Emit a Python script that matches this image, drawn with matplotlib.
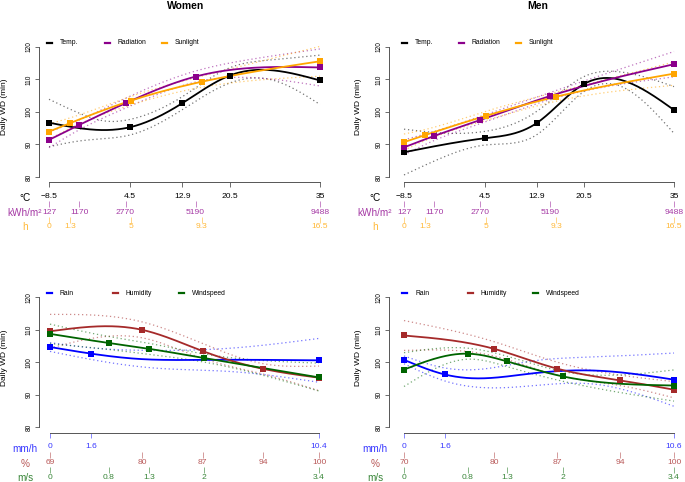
import numpy as np
import matplotlib
matplotlib.use('Agg')
import matplotlib.pyplot as plt
from matplotlib.lines import Line2D
from matplotlib.colors import to_rgba

plt.rcParams['font.family'] = ['Liberation Sans', 'DejaVu Sans']

# ---- x axes (tick values and their labels) ----
temp_ticks = [-8.5, 4.5, 12.9, 20.5, 35]
temp_labels = ['\u22128.5', '4.5', '12.9', '20.5', '35']
rad_ticks = [127, 1170, 2770, 5190, 9488]
sun_ticks = [0, 1.3, 5, 9.3, 16.5]
rain_w_ticks = [0, 1.6, 10.4]
hum_w_ticks = [69.4, 80, 87, 94, 100.4]
hum_w_labels = ['69', '80', '87', '94', '100']
wind_w_ticks = [0, 0.74, 1.25, 1.95, 3.4]
wind_w_labels = ['0', '0.8', '1.3', '2', '3.4']
rain_m_ticks = [0, 1.6, 10.6]
hum_m_ticks = [70, 80, 87, 94, 100]
wind_m_ticks = [0, 0.8, 1.3, 2, 3.4]

# ---- Women, weather (top left) ----
w_temp = [96.7, 95.3, 102.7, 111.2, 109.7]
w_rad = [91.4, 96.0, 102.7, 110.9, 113.7]
w_sun = [93.95, 96.6, 103.5, 109.3, 115.6]
w_temp_ci_x = [-8.5, -3.5, 0.5, 4.5, 12.9, 20.5, 27, 35]
w_temp_lo = [89.3, 91.1, 91.8, 92.9, 100.7, 108.9, 110.0, 102.3]
w_temp_hi = [103.9, 99.5, 97.2, 97.7, 104.7, 113.6, 116.0, 117.5]
w_rad_ci_x = [127, 1170, 2770, 5190, 7300, 9488]
w_rad_lo = [89.0, 94.5, 101.2, 109.2, 110.5, 108.0]
w_rad_hi = [93.8, 97.5, 104.2, 112.6, 116.5, 119.4]
w_sun_lo = [91.6, 95.0, 102.2, 107.6, 111.0]
w_sun_hi = [96.3, 98.2, 104.8, 111.0, 120.2]

# ---- Men, weather (top right) ----
m_temp = [87.6, 91.9, 96.6, 108.6, 100.6]
m_rad = [89.1, 92.6, 97.5, 104.9, 114.7]
m_sun = [90.7, 92.9, 98.8, 104.7, 111.8]
m_temp_ci_x = [-8.5, -3, 4.5, 12.9, 20.5, 26, 35]
m_temp_lo = [80.6, 85.4, 89.8, 93.0, 106.3, 108.2, 93.4]
m_temp_hi = [94.7, 93.6, 94.0, 100.2, 110.9, 112.4, 107.8]
m_rad_lo = [86.8, 91.2, 96.4, 103.8, 110.8]
m_rad_hi = [91.4, 94.0, 98.6, 106.0, 118.6]
m_sun_lo = [88.2, 91.2, 97.4, 103.3, 108.2]
m_sun_hi = [93.2, 94.6, 100.2, 106.1, 115.4]

# ---- Women, rain / humidity / wind (bottom left) ----
w_rain = [104.75, 102.7, 100.65]
w_rain_fit_x = [0, 1.6, 3.4, 6, 10.4]
w_rain_fit = [104.75, 102.7, 101.1, 100.8, 100.65]
w_rain_ci_x = [0, 1.6, 4, 7, 10.4]
w_rain_lo = [103.4, 100.9, 98.3, 97.2, 93.9]
w_rain_hi = [106.1, 104.5, 103.7, 104.4, 107.4]
w_hum = [109.6, 110.05, 103.5, 98.0, 95.3]
w_hum_lo = [104.4, 107.6, 101.2, 96.4, 91.3]
w_hum_hi = [114.8, 112.5, 105.8, 99.6, 98.9]
w_wind = [108.8, 106.0, 104.2, 101.35, 95.4]
w_wind_lo = [105.8, 104.0, 102.5, 100.1, 91.2]
w_wind_hi = [111.8, 108.0, 105.9, 102.6, 99.8]

# ---- Men, rain / humidity / wind (bottom right) ----
m_rain = [100.8, 96.3, 94.7]
m_rain_fit_x = [0, 1.6, 3.0, 5.0, 7.5, 10.6]
m_rain_fit = [100.8, 96.3, 95.1, 96.6, 97.5, 94.7]
m_rain_lo = [99.6, 94.3, 92.3, 92.8, 93.3, 86.5]
m_rain_hi = [102.0, 98.3, 97.9, 100.4, 101.7, 102.9]
m_hum = [108.3, 104.2, 98.1, 94.5, 91.6]
m_hum_lo = [103.7, 102.0, 96.1, 92.9, 89.1]
m_hum_hi = [112.9, 106.4, 100.1, 96.1, 94.1]
m_wind = [97.8, 102.7, 100.3, 95.7, 92.9]
m_wind_lo = [92.6, 101.0, 98.7, 94.2, 88.1]
m_wind_hi = [103.0, 104.4, 101.9, 97.2, 97.7]

W, H = 685, 482
fig = plt.figure(figsize=(W / 100, H / 100), dpi=100)


def fx(p):
    return p / W


def fy(p):
    return 1 - p / H


def norm(v, ref):
    v = np.asarray(v, float)
    return (v - ref[0]) / (ref[-1] - ref[0])


def nspline(x, y, xs):
    # natural cubic spline through (x, y), evaluated at xs
    x = np.asarray(x, float)
    y = np.asarray(y, float)
    n = len(x)
    h = np.diff(x)
    A = np.zeros((n, n))
    b = np.zeros(n)
    A[0, 0] = A[-1, -1] = 1
    for i in range(1, n - 1):
        A[i, i - 1] = h[i - 1]
        A[i, i] = 2 * (h[i - 1] + h[i])
        A[i, i + 1] = h[i]
        b[i] = 6 * ((y[i + 1] - y[i]) / h[i] - (y[i] - y[i - 1]) / h[i - 1])
    M = np.linalg.solve(A, b)
    k = np.clip(np.searchsorted(x, xs) - 1, 0, n - 2)
    hk = h[k]
    a = x[k + 1] - xs
    t = xs - x[k]
    return (M[k] * a ** 3 / (6 * hk) + M[k + 1] * t ** 3 / (6 * hk)
            + (y[k] / hk - M[k] * hk / 6) * a + (y[k + 1] / hk - M[k + 1] * hk / 6) * t)


def panel(left, right, top, u0, u1, rows, series, title=None, leg_step=57, ylab_off=34):
    bottom = top + 140.3
    ax = fig.add_axes([fx(left), fy(bottom), (right - left) / W, (bottom - top) / H])
    ax.set_xlim((left - u0) / (u1 - u0), (right - u0) / (u1 - u0))
    ax.set_ylim(78.4, 121.6)
    ax.patch.set_visible(False)
    for s in ['top', 'right']:
        ax.spines[s].set_visible(False)
    ax.spines['left'].set_bounds(80, 120)
    ax.spines['bottom'].set_bounds(0, 1)
    for s in ['left', 'bottom']:
        ax.spines[s].set_color('#555555')
        ax.spines[s].set_linewidth(0.7)
    ax.set_yticks([80, 90, 100, 110, 120])
    ax.tick_params(axis='y', length=3, width=0.6, color='#555555', labelsize=4.7, pad=1.5)
    for lab in ax.get_yticklabels():
        lab.set_rotation(90)
        lab.set_va('center')

    # three stacked x scales
    row_y = [16, 31, 45]
    for k, (ticks, labels, unit, col) in enumerate(rows):
        if col == 'black':
            tcol, lcol = '#555555', 'black'
        else:
            tcol, lcol = to_rgba(col, 0.55), to_rgba(col, 0.78)
        if k == 0:
            xa = ax
            xa.tick_params(axis='x', length=3.6, width=0.6, pad=4.2)
        else:
            xa = ax.secondary_xaxis(-0.1376 if k == 1 else -0.2480)
            for sp in xa.spines.values():
                sp.set_visible(False)
            xa.tick_params(axis='x', length=4.3 if k == 1 else 4.0, width=0.6,
                           pad=1 if k == 1 else 0.6)
        xa.set_xticks(norm(ticks, ticks), labels)
        xa.tick_params(axis='x', color=tcol, labelcolor=lcol, labelsize=6.1)
        fig.text(fx(left - 14), fy(bottom + row_y[k]), unit, ha='center', va='center',
                 fontsize=7.2, color=lcol)

    ux = np.linspace(0, 1, 300)
    for s in series:
        ref = s['ref']
        for band in ('lo', 'hi'):
            ax.plot(ux, nspline(norm(s['ci_x'], ref), s[band], ux), color=s['c'], alpha=0.55,
                    lw=0.9, dashes=(1, 2.2))
    for i, s in enumerate(series):
        ref = s['ref']
        ax.plot(ux, nspline(norm(s['fit_x'], ref), s['fit'], ux), color=s['c'], lw=1.3, zorder=4)
        ax.plot(norm(s['mx'], ref), s['my'], 's', ms=4.6, mew=0, color=s['c'], zorder=5)
        x0 = left + 8 + 5 * (left > 300) + i * leg_step
        fig.add_artist(Line2D([fx(x0), fx(x0 + 5)], [fy(top + 1)] * 2, color=s['c'], lw=1.6,
                              transform=fig.transFigure))
        fig.text(fx(x0 + 13), fy(top + 1), s['name'], va='center', fontsize=4.9)

    fig.text(fx(left - ylab_off), fy(top + 65), 'Daily WD (min)', rotation=90, ha='center',
             va='center', fontsize=6)
    if title:
        fig.text(fx((left + right) / 2 + 1), fy(6), title, ha='center', va='center',
                 fontsize=7.5, fontweight='bold')


BLACK, PURPLE, ORANGE = 'black', '#8B008B', '#FFA500'
BLUE, BROWN, GREEN = '#0000FF', '#A52A2A', '#006400'

top_rows = [(temp_ticks, temp_labels, '\u00b0C', 'black'),
            (rad_ticks, [str(v) for v in rad_ticks], 'kWh/m\u00b2', PURPLE),
            (sun_ticks, [f'{v:g}' for v in sun_ticks], 'h', ORANGE)]

panel(39, 331, 41.8, 49, 320, top_rows, [
    dict(name='Temp.', c=BLACK, ref=temp_ticks, mx=temp_ticks, my=w_temp,
         fit_x=temp_ticks, fit=w_temp, ci_x=w_temp_ci_x, lo=w_temp_lo, hi=w_temp_hi),
    dict(name='Radiation', c=PURPLE, ref=rad_ticks, mx=rad_ticks, my=w_rad,
         fit_x=rad_ticks, fit=w_rad, ci_x=w_rad_ci_x, lo=w_rad_lo, hi=w_rad_hi),
    dict(name='Sunlight', c=ORANGE, ref=sun_ticks, mx=sun_ticks, my=w_sun,
         fit_x=sun_ticks, fit=w_sun, ci_x=sun_ticks, lo=w_sun_lo, hi=w_sun_hi),
], title='Women', leg_step=57.5)

panel(389, 685, 41.8, 404, 674, top_rows, [
    dict(name='Temp.', c=BLACK, ref=temp_ticks, mx=temp_ticks, my=m_temp,
         fit_x=temp_ticks, fit=m_temp, ci_x=m_temp_ci_x, lo=m_temp_lo, hi=m_temp_hi),
    dict(name='Radiation', c=PURPLE, ref=rad_ticks, mx=rad_ticks, my=m_rad,
         fit_x=rad_ticks, fit=m_rad, ci_x=rad_ticks, lo=m_rad_lo, hi=m_rad_hi),
    dict(name='Sunlight', c=ORANGE, ref=sun_ticks, mx=sun_ticks, my=m_sun,
         fit_x=sun_ticks, fit=m_sun, ci_x=sun_ticks, lo=m_sun_lo, hi=m_sun_hi),
], title='Men', leg_step=57, ylab_off=30)

panel(39, 331, 292.3, 50, 319, [
    (rain_w_ticks, [f'{v:g}' for v in rain_w_ticks], 'mm/h', BLUE),
    (hum_w_ticks, hum_w_labels, '%', BROWN),
    (wind_w_ticks, wind_w_labels, 'm/s', GREEN)], [
    dict(name='Rain', c=BLUE, ref=rain_w_ticks, mx=rain_w_ticks, my=w_rain,
         fit_x=w_rain_fit_x, fit=w_rain_fit, ci_x=w_rain_ci_x, lo=w_rain_lo, hi=w_rain_hi),
    dict(name='Humidity', c=BROWN, ref=hum_w_ticks, mx=hum_w_ticks, my=w_hum,
         fit_x=hum_w_ticks, fit=w_hum, ci_x=hum_w_ticks, lo=w_hum_lo, hi=w_hum_hi),
    dict(name='Windspeed', c=GREEN, ref=wind_w_ticks, mx=wind_w_ticks, my=w_wind,
         fit_x=wind_w_ticks, fit=w_wind, ci_x=wind_w_ticks, lo=w_wind_lo, hi=w_wind_hi),
], leg_step=66)

panel(389, 685, 292.3, 404, 674, [
    (rain_m_ticks, [f'{v:g}' for v in rain_m_ticks], 'mm/h', BLUE),
    (hum_m_ticks, [f'{v:g}' for v in hum_m_ticks], '%', BROWN),
    (wind_m_ticks, [f'{v:g}' for v in wind_m_ticks], 'm/s', GREEN)], [
    dict(name='Rain', c=BLUE, ref=rain_m_ticks, mx=rain_m_ticks, my=m_rain,
         fit_x=m_rain_fit_x, fit=m_rain_fit, ci_x=m_rain_fit_x, lo=m_rain_lo, hi=m_rain_hi),
    dict(name='Humidity', c=BROWN, ref=hum_m_ticks, mx=hum_m_ticks, my=m_hum,
         fit_x=hum_m_ticks, fit=m_hum, ci_x=hum_m_ticks, lo=m_hum_lo, hi=m_hum_hi),
    dict(name='Windspeed', c=GREEN, ref=wind_m_ticks, mx=wind_m_ticks, my=m_wind,
         fit_x=wind_m_ticks, fit=m_wind, ci_x=wind_m_ticks, lo=m_wind_lo, hi=m_wind_hi),
], leg_step=65.5, ylab_off=30)

fig.savefig('out.png', dpi=100)
